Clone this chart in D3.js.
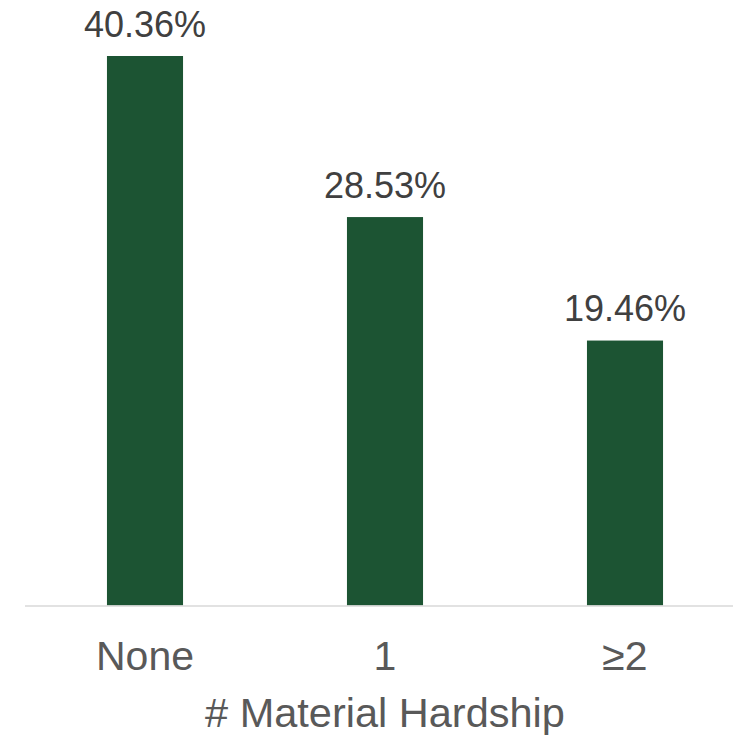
<!DOCTYPE html>
<html><head><meta charset="utf-8">
<script src="https://cdn.jsdelivr.net/npm/d3@7"></script>
<style>body{margin:0;background:#fff;}svg{display:block;font-family:"Liberation Sans",Arial,sans-serif;}</style>
</head><body>
<svg id="chart" width="733" height="736"></svg>
<script>
const categories = ["None", "1", "\u22652"];
const values = [40.36, 28.53, 19.46];
const labels = ["40.36%", "28.53%", "19.46%"];
const axisTitle = "# Material Hardship";

const svg = d3.select("#chart");
const baseline = 605.5;
const x = d3.scaleBand().domain(categories).range([25, 745]).paddingInner(0.683).paddingOuter(0.3415);
const y = d3.scaleLinear().domain([0, 40.36]).range([baseline, 56]);

svg.selectAll("rect.bar").data(values).join("rect")
  .attr("class", "bar")
  .attr("x", (d, i) => x(categories[i]))
  .attr("width", x.bandwidth())
  .attr("y", d => y(d))
  .attr("height", d => baseline - y(d))
  .attr("fill", "#1c5433");

svg.append("line").attr("x1", 25).attr("x2", 733).attr("y1", baseline + 0.5).attr("y2", baseline + 0.5)
  .attr("stroke", "#d9d9d9").attr("stroke-width", 1.5);

svg.selectAll("text.val").data(values).join("text")
  .attr("class", "val")
  .attr("x", (d, i) => x(categories[i]) + x.bandwidth() / 2)
  .attr("y", d => y(d) - 19.5)
  .attr("text-anchor", "middle")
  .attr("font-size", 36)
  .attr("fill", "#404040")
  .text((d, i) => labels[i]);

const xAxis = d3.axisBottom(x).tickSize(0).tickPadding(0);
const g = svg.append("g").attr("transform", `translate(0,${baseline})`).call(xAxis);
g.select(".domain").remove();
g.selectAll("text").attr("font-size", 41).attr("fill", "#595959")
  .attr("font-family", "'Liberation Sans',Arial,sans-serif")
  .attr("dy", null).attr("y", 64.5);

svg.append("text").attr("x", 385).attr("y", 726.5).attr("text-anchor", "middle")
  .attr("font-size", 41.5).attr("fill", "#595959").text(axisTitle);
</script>
</body></html>
